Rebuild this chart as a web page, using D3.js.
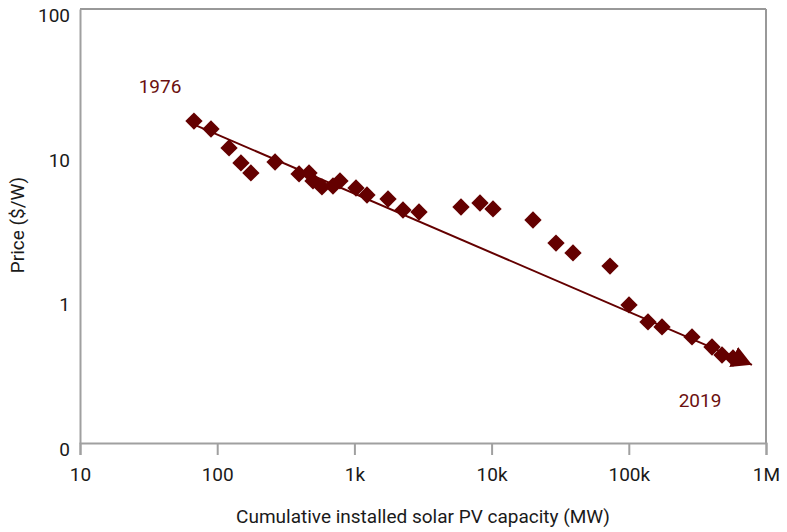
<!DOCTYPE html>
<html>
<head>
<meta charset="utf-8">
<script src="https://cdn.jsdelivr.net/npm/d3@7"></script>
<style>
  body { margin: 0; background: #fff; }
  svg text { font-family: Roboto, "Noto Sans", sans-serif; }
</style>
</head>
<body>
<div id="chart"></div>
<script>
// Cumulative capacity (MW) and price ($/W), 1976 -> 2019
const capacity = [67.7, 90.1, 122, 149, 176, 264, 395, 467, 499, 580, 698, 785, 1027, 1235, 1758,
  2260, 2957, 5984, 8230, 10240, 20030, 29470, 39200, 72950, 100350, 138000, 174600, 288800,
  404000, 478000, 575000];
const price = [16.8, 14.8, 10.95, 8.63, 7.36, 8.76, 7.24, 7.36, 6.48, 5.89, 5.98, 6.48, 5.79, 5.18, 4.86,
  4.08, 3.95, 4.28, 4.56, 4.15, 3.48, 2.41, 2.06, 1.67, 0.90, 0.687, 0.634, 0.541,
  0.461, 0.406, 0.387];

// trend (learning curve) endpoints
const trendX = [66.6, 790000];
const trendY = [16.0, 0.347];

const xTicks = [10, 100, 1e3, 1e4, 1e5, 1e6];
const xTickLabels = ["10", "100", "1k", "10k", "100k", "1M"];
const yTicks = [0.1, 1, 10, 100];
const yTickLabels = ["0", "1", "10", "100"];

const width = 787, height = 532;
const margin = { top: 9, right: 21, bottom: 89, left: 80 };
const color = "#640000";
const fontSize = 19;

const svg = d3.select("#chart").append("svg").attr("width", width).attr("height", height);

const x = d3.scaleLog().domain([10, 1e6]).range([margin.left, width - margin.right]);
const y = d3.scaleLog().domain([0.1, 100]).range([height - margin.bottom, margin.top]);

// frame: dark top line, grey right side
svg.append("line")
  .attr("x1", x(10)).attr("x2", x(1e6)).attr("y1", y(100)).attr("y2", y(100))
  .attr("stroke", "#333").attr("stroke-width", 1);
svg.append("line")
  .attr("x1", x(1e6)).attr("x2", x(1e6)).attr("y1", y(100)).attr("y2", y(0.1))
  .attr("stroke", "#999").attr("stroke-width", 2);

// x axis
const xAxis = svg.append("g")
  .attr("transform", `translate(0,${y(0.1)})`)
  .call(d3.axisBottom(x).tickValues(xTicks).tickFormat((d, i) => xTickLabels[i]).tickSize(12).tickPadding(13));
xAxis.select(".domain").attr("stroke", "#a0a0a0").attr("stroke-width", 2);
xAxis.selectAll(".tick line").attr("stroke", "#a0a0a0").attr("stroke-width", 2);
xAxis.selectAll(".tick text").attr("font-size", fontSize).attr("fill", "#1a1a1a");

// y axis
const yAxis = svg.append("g")
  .attr("transform", `translate(${x(10)},0)`)
  .call(d3.axisLeft(y).tickValues(yTicks).tickFormat((d, i) => yTickLabels[i]).tickSize(0).tickPadding(10));
yAxis.select(".domain").attr("stroke", "#a0a0a0").attr("stroke-width", 2);
yAxis.selectAll(".tick text").attr("font-size", fontSize).attr("fill", "#1a1a1a").attr("dy", "0.65em");

// arrow marker for the trend line
svg.append("defs").append("marker")
  .attr("id", "arrow")
  .attr("markerUnits", "userSpaceOnUse")
  .attr("viewBox", "0 0 20 22")
  .attr("refX", 20).attr("refY", 11)
  .attr("markerWidth", 20).attr("markerHeight", 22)
  .attr("orient", "auto")
  .append("path").attr("d", "M0,0L20,11L0,22Z").attr("fill", color);

svg.append("line")
  .attr("x1", x(trendX[0])).attr("y1", y(trendY[0]))
  .attr("x2", x(trendX[1])).attr("y2", y(trendY[1]))
  .attr("stroke", color).attr("stroke-width", 2)
  .attr("marker-end", "url(#arrow)");

// diamonds
const diamond = d3.symbol().type(d3.symbolSquare).size(150);
svg.append("g").selectAll("path")
  .data(capacity)
  .join("path")
  .attr("d", diamond)
  .attr("transform", (d, i) => `translate(${x(d)},${y(price[i])}) rotate(45)`)
  .attr("fill", color);

// year labels
svg.append("text").attr("x", 160).attr("y", 93).attr("text-anchor", "middle")
  .attr("font-size", fontSize).attr("fill", "#6b1010").text("1976");
svg.append("text").attr("x", 700).attr("y", 407).attr("text-anchor", "middle")
  .attr("font-size", fontSize).attr("fill", "#6b1010").text("2019");

// axis titles
svg.append("text").attr("x", 423).attr("y", 523).attr("text-anchor", "middle")
  .attr("font-size", fontSize).attr("fill", "#1a1a1a").text("Cumulative installed solar PV capacity (MW)");
svg.append("text").attr("transform", "translate(24,225) rotate(-90)").attr("text-anchor", "middle")
  .attr("font-size", fontSize).attr("fill", "#1a1a1a").text("Price ($/W)");
</script>
</body>
</html>
